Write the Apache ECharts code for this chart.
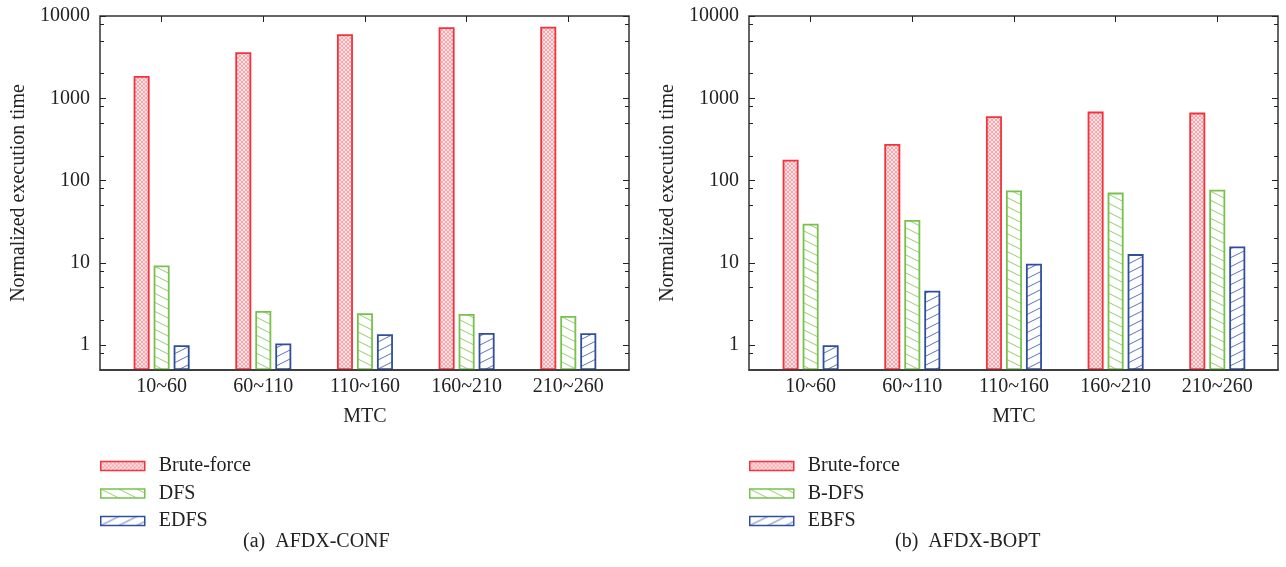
<!DOCTYPE html>
<html>
<head>
<meta charset="utf-8">
<script src="https://cdn.jsdelivr.net/npm/echarts@6/dist/echarts.min.js"></script>
<style>
  html, body { margin: 0; padding: 0; background: #fff; }
  #main { width: 1286px; height: 567px; }
</style>
</head>
<body>
<div id="main"></div>
<script>
const categories = ['10~60', '60~110', '110~160', '160~210', '210~260'];
// (a) AFDX-CONF
const confBrute = [1870, 3630, 6000, 7300, 7400];
const confDfs = [9.3, 2.6, 2.45, 2.4, 2.27];
const confEdfs = [1.0, 1.05, 1.36, 1.41, 1.4];
// (b) AFDX-BOPT
const boptBrute = [179, 279, 606, 689, 670];
const boptBdfs = [30, 33.3, 76, 71.5, 77.5];
const boptEbfs = [1.0, 4.6, 9.8, 12.8, 15.8];
// tick values of the log axis
const majorTicks = [1, 10, 100, 1000, 10000];
const minorTicks = [0.8, 2, 5, 8, 20, 50, 80, 200, 500, 800, 2000, 5000, 8000];

const FONT = 'Liberation Serif';
const RED = '#f2333d', GREEN = '#78c24c', BLUE = '#2f4f9e';

// fill patterns
function makeTile(w, h, draw) {
  const c = document.createElement('canvas');
  c.width = w; c.height = h;
  const ctx = c.getContext('2d');
  ctx.fillStyle = '#fff';
  ctx.fillRect(0, 0, w, h);
  draw(ctx, w, h);
  return { image: c, repeat: 'repeat' };
}
const crossFill = makeTile(4, 4, function (ctx, w, h) {
  ctx.fillStyle = '#fde3e4';
  ctx.fillRect(0, 0, w, h);
  ctx.strokeStyle = 'rgba(240,90,100,0.55)';
  ctx.lineWidth = 0.8;
  ctx.beginPath();
  ctx.moveTo(0, 0); ctx.lineTo(w, h);
  ctx.moveTo(0, h); ctx.lineTo(w, 0);
  ctx.stroke();
});
function hatch(color, down) {
  return makeTile(18, 9, function (ctx, w, h) {
    ctx.strokeStyle = color;
    ctx.lineWidth = 1;
    ctx.beginPath();
    for (let k = -1; k <= 1; k++) {
      if (down) { ctx.moveTo(0, k * h); ctx.lineTo(w, k * h + h); }
      else { ctx.moveTo(0, k * h + h); ctx.lineTo(w, k * h); }
    }
    ctx.stroke();
  });
}
const greenFill = hatch('#8fd06c', true);
const blueFill = hatch('#5b74b8', false);

const chart = echarts.init(document.getElementById('main'));

const grid = [], xAxis = [], yAxis = [], series = [], legend = [];

function logAxis(gi, pos, ticks, len, labels, extra) {
  return Object.assign({
    type: 'log', logBase: 10, gridIndex: gi, position: pos,
    min: 0.5, max: 10000,
    axisLine: { show: false },
    splitLine: { show: false },
    axisTick: { show: true, inside: true, length: len, customValues: ticks, lineStyle: { color: '#222', width: 1 } },
    axisLabel: labels ? {
      show: true, customValues: ticks, margin: 10,
      fontFamily: FONT, fontSize: 20, color: '#222',
      formatter: function (v) { return String(Math.round(v)); }
    } : { show: false }
  }, extra || {});
}

function panel(left, names, values) {
  const g0 = grid.length, g1 = g0 + 1;
  grid.push({ left: left, top: 16, width: 529, height: 354, show: true, borderColor: '#333', borderWidth: 1.5 });
  grid.push({ left: left + 10.8, top: 16, width: 508.3, height: 354 });

  const x0 = xAxis.length;
  xAxis.push({ type: 'value', gridIndex: g0, min: 0, max: 1, z: 5,
    axisLine: { show: true, onZero: false, lineStyle: { color: '#333', width: 1.5 } },
    axisTick: { show: false }, axisLabel: { show: false }, splitLine: { show: false } });
  xAxis.push({ type: 'category', gridIndex: g1, data: categories, position: 'bottom',
    axisLine: { show: false }, axisTick: { show: false },
    axisLabel: { margin: 7, fontFamily: FONT, fontSize: 20, color: '#222' },
    name: 'MTC', nameLocation: 'middle', nameGap: 37,
    nameTextStyle: { fontFamily: FONT, fontSize: 20, color: '#222' } });
  xAxis.push({ type: 'category', gridIndex: g1, data: categories, position: 'top',
    axisLine: { show: false },
    axisTick: { show: true, inside: true, alignWithLabel: true, length: 6, lineStyle: { color: '#222' } },
    axisLabel: { show: false } });

  const y0 = yAxis.length;
  yAxis.push(logAxis(g0, 'left', majorTicks, 6, true, {
    name: 'Normalized execution time', nameLocation: 'middle', nameGap: 71,
    nameTextStyle: { fontFamily: FONT, fontSize: 20, color: '#222' } }));
  yAxis.push(logAxis(g0, 'left', minorTicks, 4, false));
  yAxis.push(logAxis(g0, 'right', majorTicks, 6, false));
  yAxis.push(logAxis(g0, 'right', minorTicks, 4, false));
  yAxis.push({ type: 'log', logBase: 10, gridIndex: g1, min: 0.5, max: 10000, startValue: 0.5, show: false });

  const fills = [crossFill, greenFill, blueFill];
  const borders = [RED, GREEN, BLUE];
  names.forEach(function (n, i) {
    series.push({
      name: n, type: 'bar', xAxisIndex: x0 + 1, yAxisIndex: y0 + 4,
      data: values[i], barWidth: 16, barGap: '25%',
      itemStyle: { color: fills[i], borderColor: borders[i], borderWidth: 1.8 }
    });
  });

  legend.push({
    orient: 'vertical', left: left, top: 456, padding: 0,
    itemWidth: 44, itemHeight: 9, itemGap: 7.5,
    icon: 'rect', selectedMode: false,
    data: names.map(function (n, i) {
      return { name: n, itemStyle: { color: fills[i], borderColor: borders[i], borderWidth: 1.5 } };
    }),
    textStyle: { fontFamily: FONT, fontSize: 20, color: '#222', padding: [0, 0, 0, 9] }
  });
}

panel(100, ['Brute-force', 'DFS', 'EDFS'], [confBrute, confDfs, confEdfs]);
panel(749, ['Brute-force', 'B-DFS', 'EBFS'], [boptBrute, boptBdfs, boptEbfs]);

chart.setOption({
  animation: false,
  backgroundColor: '#fff',
  grid: grid,
  xAxis: xAxis,
  yAxis: yAxis,
  series: series,
  legend: legend,
  title: [
    { text: '(a)  AFDX-CONF', left: 238, top: 527, textStyle: { fontFamily: FONT, fontSize: 20, fontWeight: 'normal', color: '#222' } },
    { text: '(b)  AFDX-BOPT', left: 890, top: 527, textStyle: { fontFamily: FONT, fontSize: 20, fontWeight: 'normal', color: '#222' } }
  ]
});
</script>
</body>
</html>
